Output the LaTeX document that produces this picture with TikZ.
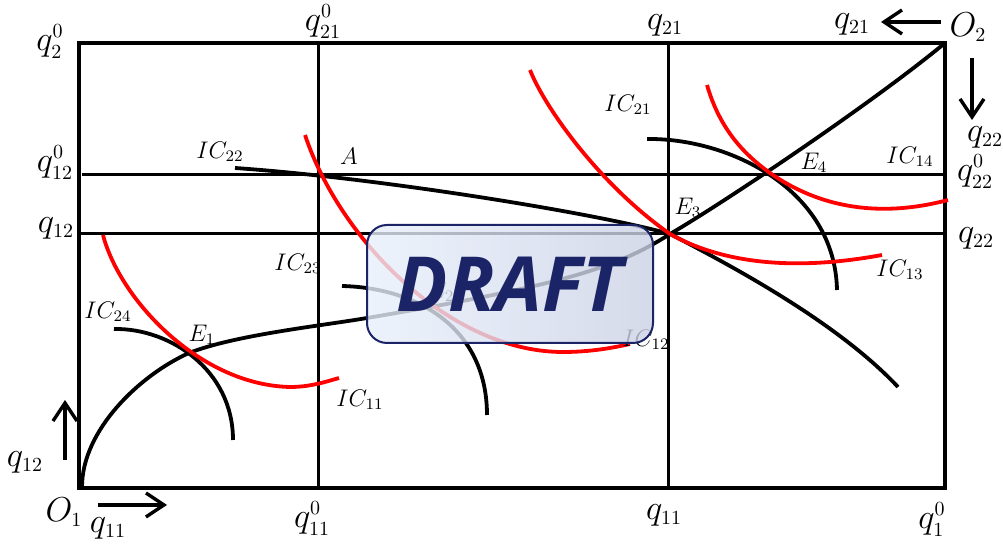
\documentclass[tikz,border=0pt]{standalone}
\usepackage{fontspec}
\setmainfont{Liberation Serif}
\newfontfamily\draftfont{Open Sans}
\usetikzlibrary{arrows.meta}
\DeclareMathSizes{18}{18}{10}{8}
\DeclareMathSizes{12}{12}{8}{6}
\definecolor{stampnavy}{RGB}{27,36,102}
\definecolor{stampleft}{RGB}{232,240,251}
\definecolor{stampright}{RGB}{203,209,229}

\tikzset{
  qlab/.style={font=\fontsize{18}{20}\selectfont, inner sep=0pt},
  iclab/.style={font=\fontsize{12}{14}\selectfont, inner sep=0pt},
  frame/.style={line width=2pt},
  gridline/.style={line width=1.5pt},
  icone/.style={red, line width=1.9pt},
  ictwo/.style={black, line width=1.9pt},
  axarrow/.style={line width=1.7pt, -{Straight Barb[length=9pt,width=12pt,line width=1.7pt]}},
  stamp/.style={draw=stampnavy, line width=1pt, rounded corners=10pt,
    left color=stampleft, right color=stampright, fill opacity=0.8, text opacity=1,
    minimum width=143pt, minimum height=59pt, text=stampnavy,
    font=\draftfont\bfseries\itshape\fontsize{38}{40}\selectfont},
}

\begin{document}
\begin{tikzpicture}[x=0.5pt,y=-0.5pt]
  \useasboundingbox (0,0) rectangle (1003,544);
  % Edgeworth box and quantity lines
  \draw[frame] (79,43) rectangle (945,488);
  \draw[gridline] (318,43) -- (318,488);
  \draw[gridline] (668,43) -- (668,488);
  \draw[gridline] (82,175) -- (945,175);
  \draw[gridline] (79,234) -- (945,234);

  % contract curve
  \draw[ictwo] (82,487) .. controls (82,430) and (140,375) .. (189,353)
    .. controls (235,335) and (320,326) .. (367,318)
    .. controls (420,309) and (520,292) .. (580,274)
    .. controls (620,262) and (645,250) .. (670,234)
    .. controls (720,205) and (870,105) .. (945,43);

  % consumer 2 (black)
  \draw[ictwo] (114,329) .. controls (170,328) and (233,370) .. (233,440);
  \draw[ictwo] (342,286) .. controls (420,288) and (487,330) .. (487,415);
  \draw[ictwo] (235,168) .. controls (380,178) and (600,214) .. (670,234)
    .. controls (740,270) and (840,325) .. (898,387);
  \draw[ictwo] (647,139) .. controls (730,138) and (835,190) .. (837,290);

  % consumer 1 (red)
  \draw[icone] (103,235) .. controls (120,300) and (200,385) .. (290,387)
    .. controls (310,387) and (325,382) .. (339,378);
  \draw[icone] (305,135) .. controls (340,240) and (450,352) .. (563,352)
    .. controls (590,352) and (612,348) .. (630,344);
  \draw[icone] (530,70) .. controls (545,108) and (600,185) .. (670,234)
    .. controls (720,262) and (790,272) .. (882,255);
  \draw[icone] (707,85) .. controls (720,130) and (745,155) .. (770,173)
    .. controls (820,208) and (880,218) .. (948,200);

  % origins and directions
  \node[qlab] (o1) at (64,512) {$O_1$};
  \node[qlab] (o2) at (968,27) {$O_2$};
  \draw[axarrow] (98,505) -- (167,505);
  \draw[axarrow] (65,460) -- (65,400);
  \draw[axarrow] (941,22) -- (881,22);
  \draw[axarrow] (972,58) -- (972,120);

  % quantity labels
  \node[qlab] (q20) at (50,42) {$q_2^0$};
  \node[qlab] (q120) at (55,163) {$q_{12}^0$};
  \node[qlab] (q12l) at (56,228) {$q_{12}$};
  \node[qlab] (q12a) at (25,462) {$q_{12}$};
  \node[qlab] (q11a) at (108,528) {$q_{11}$};
  \node[qlab] (q110) at (312,519) {$q_{11}^0$};
  \node[qlab] (q11b) at (664,515) {$q_{11}$};
  \node[qlab] (q10) at (932,520) {$q_1^0$};
  \node[qlab] (q210) at (323,22) {$q_{21}^0$};
  \node[qlab] (q21t) at (665,25) {$q_{21}$};
  \node[qlab] (q21a) at (852,24) {$q_{21}$};
  \node[qlab] (q22a) at (985,137) {$q_{22}$};
  \node[qlab] (q220) at (975,172) {$q_{22}^0$};
  \node[qlab] (q22r) at (976,238) {$q_{22}$};

  % points and curve labels
  \node[iclab] (ptA) at (349,156) {$A$};
  \node[iclab] (e1) at (202,335) {$E_1$};
  \node[iclab] (e2) at (441,292) {$E_2$};
  \node[iclab] (e3) at (688,208) {$E_3$};
  \node[iclab] (e4) at (814,163) {$E_4$};
  \node[iclab] (ic11) at (360,400) {$IC_{11}$};
  \node[iclab] (ic12) at (646,340) {$IC_{12}$};
  \node[iclab] (ic13) at (900,270) {$IC_{13}$};
  \node[iclab] (ic14) at (910,157) {$IC_{14}$};
  \node[iclab] (ic21) at (628,105) {$IC_{21}$};
  \node[iclab] (ic22) at (220,152) {$IC_{22}$};
  \node[iclab] (ic23) at (298,264) {$IC_{23}$};
  \node[iclab] (ic24) at (108,312) {$IC_{24}$};

  % watermark
  \node[stamp] (draft) at (510,284) {DRAFT};
\end{tikzpicture}
\end{document}
